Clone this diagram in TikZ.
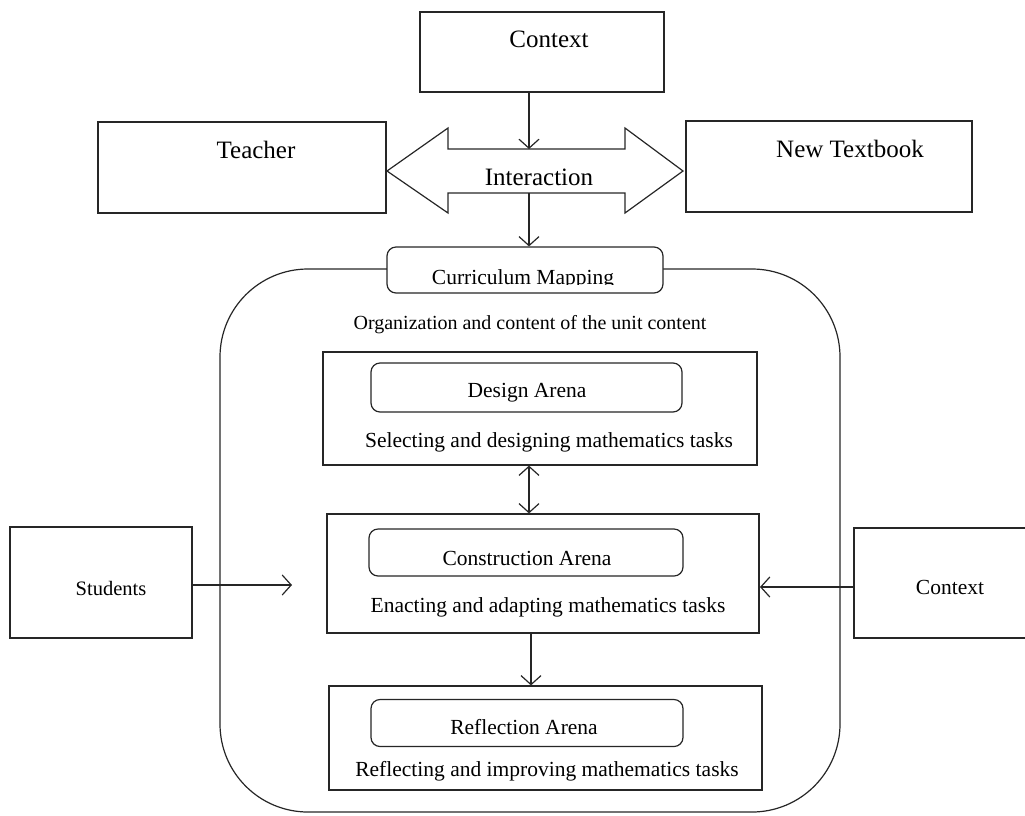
\documentclass[tikz,border=0pt]{standalone}
\usepackage{fontspec}
\setmainfont{Liberation Serif}
\usetikzlibrary{arrows.meta}
\tikzset{
  ln/.style={line width=1.2pt, draw=black!85},
  box/.style={ln, rectangle, inner sep=0pt},
  rbox/.style={ln, rectangle, rounded corners=9pt, inner sep=0pt, fill=white},
  arr/.style={ln, -{Straight Barb[length=9pt,width=20pt,line width=1.2pt]}},
  darr/.style={ln, {Straight Barb[length=9pt,width=20pt,line width=1.2pt]}-{Straight Barb[length=9pt,width=20pt,line width=1.2pt]}},
  bigtxt/.style={inner sep=0pt, font=\fontsize{25}{30}\selectfont},
  smtxt/.style={inner sep=0pt, font=\fontsize{21.5}{26}\selectfont},
}
\begin{document}
\begin{tikzpicture}[x=1pt,y=-1pt]
\useasboundingbox (0,0) rectangle (1025,815);
% top boxes
\node[box, minimum width=244, minimum height=80] (ctx) at (542,52) {};
\node[bigtxt] (ctxT) at (549,39) {Context};
\node[box, minimum width=288, minimum height=91] (teach) at (242,167.5) {};
\node[bigtxt] (teachT) at (256,150) {Teacher};
\node[box, minimum width=286, minimum height=91] (book) at (829,166.5) {};
\node[bigtxt] (bookT) at (850,149) {New Textbook};
% double arrow
\draw[ln] (387,171) -- (448,128) -- (448,149) -- (625,149) -- (625,128) -- (683,171)
  -- (625,213) -- (625,193) -- (448,193) -- (448,213) -- cycle;
\coordinate (ia) at (529,149);
\coordinate (ib) at (529,193);
\node[bigtxt] (inter) at (539,177) {Interaction};
% big frame
\node[ln, rectangle, rounded corners=88pt, minimum width=620, minimum height=543] (frame) at (530,540.5) {};
% curriculum mapping
\node[rbox, minimum width=276, minimum height=46] (cm) at (525,270) {};
\begin{scope}
\clip (390,250) rectangle (660,284.5);
\node[smtxt, anchor=base] (cmT) at (523,284.5) {Curriculum Mapping};
\end{scope}
\draw[arr] (ctx.south -| ia) -- (ia);
\draw[arr] (ib) -- (ib |- cm.north);
\node[smtxt, font=\fontsize{20}{24}\selectfont] (org) at (530,325) {Organization and content of the unit content};
% design
\node[box, minimum width=434, minimum height=113] (des) at (540,408.5) {};
\node[rbox, minimum width=311, minimum height=49] (desI) at (526.5,387.5) {};
\node[smtxt] (desT) at (527,393) {Design Arena};
\node[smtxt] (desS) at (549,442) {Selecting and designing mathematics tasks};
% construction
\node[box, minimum width=432, minimum height=119] (con) at (543,573.5) {};
\node[rbox, minimum width=314, minimum height=47] (conI) at (526,552.5) {};
\node[smtxt] (conT) at (527,558) {Construction Arena};
\node[smtxt] (conS) at (548,607) {Enacting and adapting mathematics tasks};
% reflection
\node[box, minimum width=433, minimum height=104] (ref) at (545.5,738) {};
\node[rbox, minimum width=312, minimum height=47] (refI) at (527,723) {};
\node[smtxt] (refT) at (524,727) {Reflection Arena};
\node[smtxt] (refS) at (547,771) {Reflecting and improving mathematics tasks};
% arrows between arenas
\draw[darr] (des.south -| 529,0) -- (con.north -| 529,0);
\draw[arr] (con.south -| 531,0) -- (ref.north -| 531,0);
% side boxes
\node[box, minimum width=182, minimum height=111] (stu) at (101,582.5) {};
\node[bigtxt, font=\fontsize{20.5}{24}\selectfont] (stuT) at (111,588) {Students};
\node[box, minimum width=180, minimum height=110] (ctx2) at (944,583) {};
\node[bigtxt, font=\fontsize{21.5}{26}\selectfont] (ctx2T) at (950,587) {Context};
\coordinate (sarr) at (292,585);
\coordinate (carr) at (760,587);
\draw[arr] (stu.east |- sarr) -- (sarr);
\draw[arr] (ctx2.west |- carr) -- (carr);
\end{tikzpicture}
\end{document}
